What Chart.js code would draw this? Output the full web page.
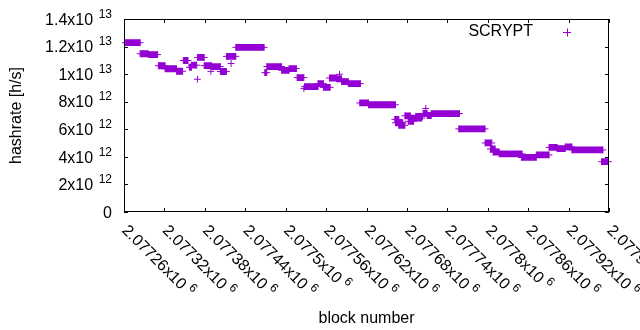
<!DOCTYPE html>
<html lang="en">
<head>
  <meta charset="UTF-8">
  <title>SCRYPT hashrate</title>
  <script src="https://cdn.jsdelivr.net/npm/chart.js"></script>
  <style>
    body { margin: 0; background: #fff; }
  </style>
</head>
<body>
  <canvas id="hashChart" width="640" height="330"></canvas>
  <script>
    const seriesLabel = 'SCRYPT';

    // runs of blocks that share one hashrate estimate (start block, end block, h/s)
    const runStart = [2077262, 2077284, 2077296, 2077311, 2077321, 2077338, 2077348, 2077357, 2077360, 2077369,
                      2077369, 2077379, 2077389, 2077390, 2077403, 2077412, 2077419, 2077426, 2077469, 2077472,
                      2077494, 2077505, 2077517, 2077527, 2077528, 2077548, 2077556, 2077565, 2077580, 2077576,
                      2077583, 2077593, 2077610, 2077623, 2077662, 2077663, 2077668, 2077677, 2077682, 2077686,
                      2077693, 2077704, 2077708, 2077710, 2077716, 2077757, 2077796, 2077804, 2077808, 2077817,
                      2077850, 2077872, 2077891, 2077903, 2077915, 2077925, 2077969];
    const runEnd   = [2077284, 2077296, 2077310, 2077321, 2077338, 2077347, 2077355, 2077360, 2077368, 2077369,
                      2077379, 2077390, 2077389, 2077403, 2077412, 2077426, 2077419, 2077468, 2077472, 2077494,
                      2077505, 2077516, 2077527, 2077527, 2077548, 2077556, 2077566, 2077576, 2077580, 2077583,
                      2077593, 2077611, 2077623, 2077663, 2077668, 2077674, 2077677, 2077685, 2077690, 2077702,
                      2077703, 2077710, 2077708, 2077716, 2077758, 2077796, 2077806, 2077811, 2077817, 2077851,
                      2077872, 2077891, 2077903, 2077915, 2077925, 2077971, 2077979];
    const runHashrate = [12.28e12, 11.48e12, 11.42e12, 10.61e12, 10.39e12, 10.21e12, 10.99e12, 10.50e12, 10.65e12, 9.63e12,
                         11.21e12, 10.62e12, 10.20e12, 10.55e12, 10.19e12, 11.29e12, 10.77e12, 11.94e12, 10.11e12, 10.55e12,
                         10.28e12, 10.40e12, 9.75e12, 8.95e12, 9.09e12, 9.31e12, 9.04e12, 9.72e12, 9.99e12, 9.65e12,
                         9.46e12, 9.31e12, 7.91e12, 7.78e12, 6.72e12, 6.47e12, 6.29e12, 6.98e12, 6.58e12, 6.81e12,
                         6.93e12, 7.15e12, 7.51e12, 7.00e12, 7.14e12, 6.03e12, 5.01e12, 4.57e12, 4.35e12, 4.21e12,
                         3.96e12, 4.14e12, 4.69e12, 4.59e12, 4.72e12, 4.50e12, 3.65e12];

    const xTicks = [2077260, 2077320, 2077380, 2077440, 2077500, 2077560, 2077620,
                    2077680, 2077740, 2077800, 2077860, 2077920, 2077980];
    const xTickLabels = ['2.07726x10^6', '2.07732x10^6', '2.07738x10^6', '2.07744x10^6', '2.0775x10^6',
                         '2.07756x10^6', '2.07762x10^6', '2.07768x10^6', '2.07774x10^6', '2.0778x10^6',
                         '2.07786x10^6', '2.07792x10^6', '2.07798x10^6'];
    const yTicks = [0, 2e12, 4e12, 6e12, 8e12, 1e13, 1.2e13, 1.4e13];
    const yTickLabels = ['0', '2x10^12', '4x10^12', '6x10^12', '8x10^12', '1x10^13', '1.2x10^13', '1.4x10^13'];

    const purple = '#9400d3';
    const mainFont = '16px "Liberation Sans", Arial, sans-serif';
    const supFont = '12px "Liberation Sans", Arial, sans-serif';

    // each run becomes a segment; a null entry breaks the line between runs
    const points = [];
    for (let i = 0; i < runStart.length; i++) {
      points.push({ x: runStart[i], y: runHashrate[i] });
      if (runEnd[i] !== runStart[i]) points.push({ x: runEnd[i], y: runHashrate[i] });
      points.push({ x: runEnd[i], y: null });
    }

    function drawLabel(ctx, text, x, y, alignRight, gap) {
      const parts = text.split('^');
      ctx.font = mainFont;
      const wb = ctx.measureText(parts[0]).width;
      let we = 0;
      if (parts[1]) {
        ctx.font = supFont;
        we = ctx.measureText(parts[1]).width;
      } else {
        gap = 0;
      }
      const x0 = alignRight ? x - (wb + gap + we) : x;
      ctx.font = mainFont;
      ctx.fillText(parts[0], x0, y);
      if (parts[1]) {
        ctx.font = supFont;
        ctx.fillText(parts[1], x0 + wb + gap, y - 7);
      }
    }

    const gnuplotFrame = {
      id: 'gnuplotFrame',
      afterDraw(chart) {
        const ctx = chart.ctx;
        const a = chart.chartArea;
        const xs = chart.scales.x, ys = chart.scales.y;
        const tick = 4;
        ctx.save();
        ctx.strokeStyle = '#000';
        ctx.lineWidth = 1;
        ctx.strokeRect(a.left + 0.5, a.top + 0.5, a.right - a.left - 1, a.bottom - a.top - 1);

        ctx.beginPath();
        yTicks.forEach(v => {
          const py = Math.round(ys.getPixelForValue(v)) + 0.5;
          ctx.moveTo(a.left, py); ctx.lineTo(a.left + tick, py);
          ctx.moveTo(a.right, py); ctx.lineTo(a.right - tick, py);
        });
        xTicks.forEach(v => {
          const px = Math.round(xs.getPixelForValue(v)) + 0.5;
          ctx.moveTo(px, a.bottom); ctx.lineTo(px, a.bottom - tick);
          ctx.moveTo(px, a.top); ctx.lineTo(px, a.top + tick);
        });
        ctx.stroke();

        ctx.fillStyle = '#000';
        ctx.textBaseline = 'alphabetic';
        ctx.textAlign = 'left';
        yTicks.forEach((v, i) => {
          drawLabel(ctx, yTickLabels[i], 112, ys.getPixelForValue(v) + 5.7, true, 5.5);
        });
        xTicks.forEach((v, i) => {
          ctx.save();
          ctx.translate(xs.getPixelForValue(v) + 7.5, 221);
          ctx.rotate(Math.PI / 4);
          drawLabel(ctx, xTickLabels[i], 0, 14.5, false, 4);
          ctx.restore();
        });

        ctx.font = mainFont;
        ctx.textAlign = 'center';
        ctx.textBaseline = 'middle';
        ctx.fillText('block number', (a.left + a.right) / 2, 319);
        ctx.save();
        ctx.translate(17, (a.top + a.bottom) / 2);
        ctx.rotate(-Math.PI / 2);
        ctx.fillText('hashrate [h/s]', 0, 0);
        ctx.restore();

        // key
        ctx.textAlign = 'right';
        ctx.fillText(seriesLabel, 533, 32);
        ctx.strokeStyle = purple;
        ctx.beginPath();
        ctx.moveTo(563, 32.5); ctx.lineTo(571, 32.5);
        ctx.moveTo(567.5, 28.5); ctx.lineTo(567.5, 36.5);
        ctx.stroke();
        ctx.restore();
      }
    };

    new Chart(document.getElementById('hashChart'), {
      type: 'line',
      data: {
        datasets: [{
          label: seriesLabel,
          data: points,
          borderColor: purple,
          borderWidth: 6.8,
          borderCapStyle: 'butt',
          pointStyle: 'cross',
          pointRadius: 3.4,
          pointBorderWidth: 1,
          pointBorderColor: purple,
          pointBackgroundColor: purple,
          tension: 0,
          spanGaps: false,
          clip: false
        }]
      },
      options: {
        responsive: false,
        animation: false,
        devicePixelRatio: 1,
        layout: { padding: { left: 124, right: 31, top: 19, bottom: 118 } },
        plugins: { legend: { display: false }, tooltip: { enabled: false } },
        scales: {
          x: { type: 'linear', display: false, min: xTicks[0], max: xTicks[xTicks.length - 1] },
          y: { type: 'linear', display: false, min: 0, max: 1.4e13 }
        }
      },
      plugins: [gnuplotFrame]
    });
  </script>
</body>
</html>
